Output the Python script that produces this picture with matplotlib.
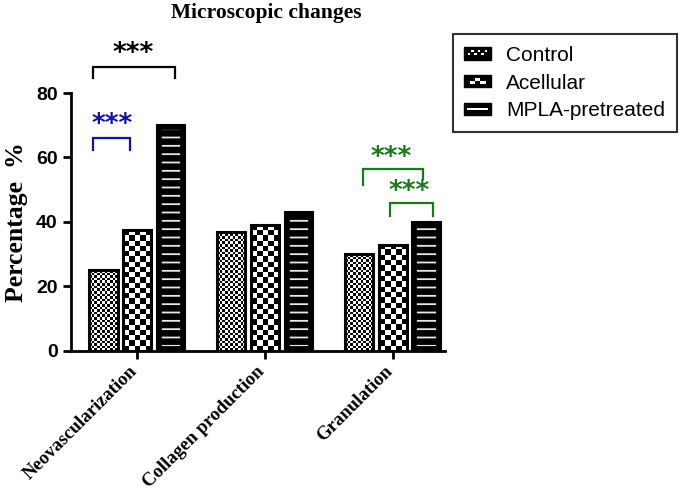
import numpy as np
import matplotlib
matplotlib.use("Agg")
import matplotlib.pyplot as plt
import matplotlib.transforms as mtransforms
from matplotlib.patches import Rectangle, Patch
from matplotlib.legend_handler import HandlerPatch

categories = ["Neovascularization", "Collagen production", "Granulation"]
series = ["Control", "Acellular", "MPLA-pretreated"]
control = [25, 37, 30]
acellular = [37.5, 39, 33]
mpla = [70, 43, 40]
yticks = [0, 20, 40, 60, 80]

plt.rcParams["hatch.linewidth"] = 1.3

fig = plt.figure(figsize=(6.85, 4.9), dpi=100)
ax = fig.add_axes([0.1036, 0.2837, 0.546, 0.5265])
ax.set_xlim(-0.52, 2.41)
ax.set_ylim(0, 80)

x = np.arange(len(categories))
w = 0.22
off = 0.265

def checker_fill(bars, cell_px, zo):
    for b in bars:
        x0, y0 = b.get_x(), b.get_y()
        x1, y1 = x0 + b.get_width(), y0 + b.get_height()
        p0 = ax.transData.transform((x0, y0))
        p1 = ax.transData.transform((x1, y1))
        nc = max(1, int(round((p1[0] - p0[0]) / cell_px)))
        nr = max(1, int(round((p1[1] - p0[1]) / cell_px)))
        arr = (np.add.outer(np.arange(nr), np.arange(nc)) % 2).astype(float)
        im = ax.imshow(arr, cmap="gray", extent=(x0, x1, y0, y1), aspect="auto",
                       interpolation="nearest", zorder=zo, vmin=0, vmax=1)
        im.set_clip_path(b)

# Control
b1 = ax.bar(x - off, control, w, facecolor="white", edgecolor="black", linewidth=0, zorder=2)
checker_fill(b1, 2.6, 2.1)
ax.bar(x - off, control, w, fill=False, edgecolor="black", linewidth=2.2, zorder=3)
# Acellular
b2 = ax.bar(x, acellular, w, facecolor="white", edgecolor="black", linewidth=0, zorder=2)
checker_fill(b2, 5.2, 2.1)
ax.bar(x, acellular, w, fill=False, edgecolor="black", linewidth=2.2, zorder=3)
# MPLA
b3 = ax.bar(x + off, mpla, w, facecolor="black", edgecolor="#e8e8e8", linewidth=0, hatch="--", zorder=2)
b3o = ax.bar(x + off, mpla, w, fill=False, edgecolor="black", linewidth=7, zorder=3)
for inner, outer in zip(b3, b3o):
    outer.set_clip_path(inner)
ax.bar(x + off, mpla, w, fill=False, edgecolor="black", linewidth=1.5, zorder=3)

ax.set_aspect("auto")
ax.set_xlim(-0.52, 2.41)
ax.set_ylim(0, 80)

for s in ["top", "right"]:
    ax.spines[s].set_visible(False)
for s in ["left", "bottom"]:
    ax.spines[s].set_linewidth(2)
    ax.spines[s].set_zorder(5)

ax.set_yticks(yticks)
ax.set_yticklabels([str(v) for v in yticks], fontfamily="Liberation Sans",
                   fontweight="bold", fontsize=14)
ax.tick_params(axis="y", width=2, length=6)
ax.set_xticks(x)
ax.set_xticklabels(categories, rotation=45, ha="right", rotation_mode="anchor",
                   fontfamily="Liberation Serif", fontweight="bold", fontsize=13.5)
ax.tick_params(axis="x", width=2, length=6, pad=6)
shift = mtransforms.ScaledTranslation(-9 / 100, 5 / 100, fig.dpi_scale_trans)
for lab in ax.get_xticklabels():
    lab.set_transform(lab.get_transform() + shift)

ax.set_ylabel("Percentage  %", fontfamily="Liberation Serif", fontweight="bold",
              fontsize=18.5, labelpad=6)
fig.text(0.388, 1 - 13 / 490, "Microscopic changes", fontfamily="Liberation Serif",
         fontweight="bold", fontsize=15.5, ha="center", va="center")

def bracket(x0, x1, y, yl, yr, xs, ys, color):
    ax.plot([x0, x0, x1, x1], [yl, y, y, yr], color=color, lw=1.6, clip_on=False,
            solid_joinstyle="miter", zorder=4)
    ax.text(xs, ys, "***", color=color, ha="center", va="center",
            fontsize=19, fontweight="bold", clip_on=False)

bracket(-0.344, 0.297, 88.1, 84.7, 84.7, -0.03, 92.1, "black")
bracket(-0.344, -0.055, 66.0, 62.3, 62.3, -0.2, 70.1, "#1010b0")
bracket(1.766, 2.234, 56.4, 51.5, 53.3, 1.99, 59.8, "#1a7a1a")
bracket(1.977, 2.3125, 45.9, 41.9, 41.9, 2.133, 49.3, "#1a7a1a")

class CheckerHandler(HandlerPatch):
    def __init__(self, kind):
        super().__init__()
        self.kind = kind
    def create_artists(self, legend, orig_handle, xdescent, ydescent, width, height,
                       fontsize, trans):
        arts = [Rectangle((-xdescent, -ydescent), width, height, facecolor="black",
                          edgecolor="black", transform=trans)]
        if self.kind == "control":
            n, m = 8, 3
            cw, ch = width / n, height / m
            for i in range(n):
                for j in range(m):
                    if (i + j) % 2 == 0 and 0 < j < m and 0 < i < n - 1:
                        arts.append(Rectangle((-xdescent + i * cw, -ydescent + j * ch * 0.8 + ch * 0.2),
                                              cw * 0.8, ch * 0.6, facecolor="white",
                                              edgecolor="none", transform=trans))
        elif self.kind == "acell":
            n = 5
            cw = width / n
            for i in range(1, n - 1):
                yy = -ydescent + (height * 0.3 if i % 2 else height * 0.5)
                arts.append(Rectangle((-xdescent + i * cw, yy), cw, height * 0.25,
                                      facecolor="white", edgecolor="none", transform=trans))
        else:
            arts.append(Rectangle((-xdescent + width * 0.12, -ydescent + height * 0.42),
                                  width * 0.76, height * 0.14, facecolor="white",
                                  edgecolor="none", transform=trans))
        return arts

handles = [Patch(label=s) for s in series]
leg = fig.legend(handles, series, loc="upper left", bbox_to_anchor=(0.661, 0.93),
                 frameon=True, fancybox=False, edgecolor="black",
                 prop={"family": "Liberation Sans", "size": 15},
                 handlelength=1.3, handleheight=0.55, handletextpad=0.72,
                 borderpad=0.55, labelspacing=0.42, borderaxespad=0,
                 handler_map={handles[0]: CheckerHandler("control"),
                              handles[1]: CheckerHandler("acell"),
                              handles[2]: CheckerHandler("mpla")})
leg.get_frame().set_linewidth(1.5)

fig.savefig("out.png", dpi=100)
